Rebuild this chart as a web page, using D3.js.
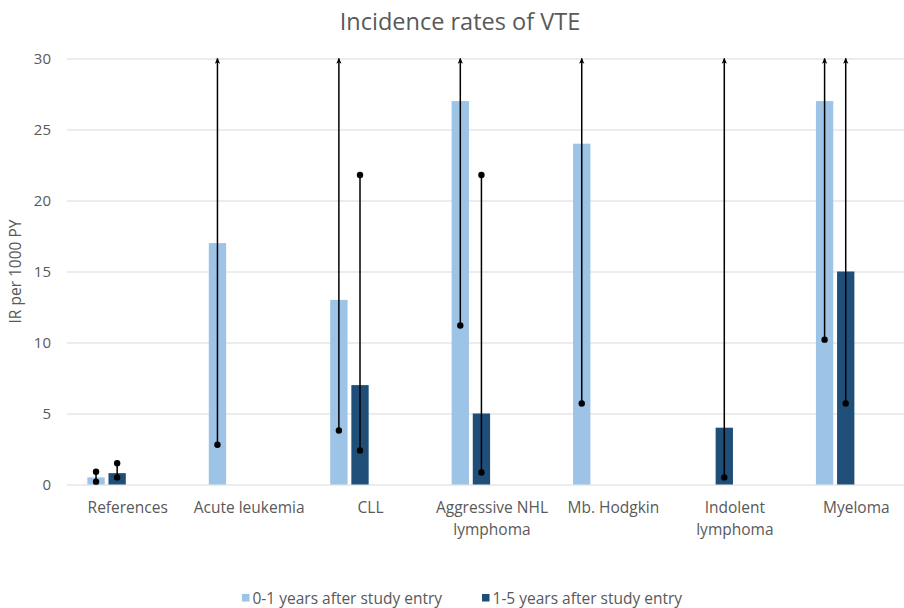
<!DOCTYPE html>
<html>
<head>
<meta charset="utf-8">
<script src="https://cdn.jsdelivr.net/npm/d3@7"></script>
<style>
  html, body { margin: 0; padding: 0; background: #fff; }
  svg { display: block; font-family: "Open Sans", "Noto Sans", sans-serif; }
</style>
</head>
<body>
<script>
// Categories (x axis) and their wrapped tick labels
const categories = ["References", "Acute leukemia", "CLL", "Aggressive NHL lymphoma",
                    "Mb. Hodgkin", "Indolent lymphoma", "Myeloma"];
const tickLines = [["References"], ["Acute leukemia"], ["CLL"], ["Aggressive NHL", "lymphoma"],
                   ["Mb. Hodgkin"], ["Indolent", "lymphoma"], ["Myeloma"]];

// Series names
const seriesNames = ["0-1 years after study entry", "1-5 years after study entry"];
const seriesColors = ["#9DC3E6", "#1F4E79"];

// Incidence rates (IR per 1000 PY); null = no estimate
const early = [0.5, 17, 13, 27, 24, null, 27];
const late  = [0.8, null, 7, 5, null, 4, 15];

// 95% confidence limits; Infinity = upper limit beyond the axis
const earlyLow  = [0.2, 2.8, 3.8, 11.2, 5.7, null, 10.2];
const earlyHigh = [0.9, Infinity, Infinity, Infinity, Infinity, null, Infinity];
const lateLow   = [0.5, null, 2.4, 0.85, null, 0.5, 5.7];
const lateHigh  = [1.5, null, 21.8, 21.8, null, Infinity, Infinity];

const yTicks = [0, 5, 10, 15, 20, 25, 30];

const W = 904, H = 608;
const plot = { left: 67, right: 917, top: 58.5, bottom: 484.5 };
const textColor = "#595959";
const labelSize = "15.5px";

const svg = d3.select("body").append("svg").attr("width", W).attr("height", H);

const x = d3.scaleBand().domain(categories).range([plot.left, plot.right]);
const bw = x.bandwidth();
const xs = d3.scaleBand().domain(seriesNames)
  .range([0.152 * bw, 0.5 * bw]).paddingInner(0.18).paddingOuter(0.09);
const y = d3.scaleLinear().domain([0, 30]).range([plot.bottom, plot.top]);

// Title
svg.append("text")
  .attr("x", 460).attr("y", 30)
  .attr("text-anchor", "middle")
  .attr("fill", textColor)
  .style("font-size", "23.5px")
  .text("Incidence rates of VTE");

// Y axis with gridlines
const yAxis = svg.append("g")
  .attr("transform", `translate(${plot.left},0)`)
  .call(d3.axisLeft(y).tickValues(yTicks).tickSize(-(plot.right - plot.left)).tickPadding(16));
yAxis.select(".domain").remove();
yAxis.selectAll(".tick line").attr("stroke", "#D9D9D9").attr("stroke-width", 1);
yAxis.selectAll(".tick text").attr("fill", textColor)
  .style("font-size", "15px").style("font-family", "'Open Sans', sans-serif");

// Y axis title
svg.append("text")
  .attr("transform", `translate(21,${(plot.top + plot.bottom) / 2}) rotate(-90)`)
  .attr("text-anchor", "middle")
  .attr("fill", textColor)
  .style("font-size", labelSize)
  .text("IR per 1000 PY");

// X axis labels
const xAxis = svg.append("g")
  .attr("transform", `translate(0,${plot.bottom})`)
  .call(d3.axisBottom(x).tickSize(0).tickPadding(0));
xAxis.select(".domain").remove();
xAxis.selectAll(".tick text").each(function (d) {
  const lines = tickLines[categories.indexOf(d)];
  const t = d3.select(this).text(null)
    .attr("y", 28).attr("dy", null)
    .attr("fill", textColor)
    .style("font-size", labelSize).style("font-family", "'Open Sans', sans-serif");
  lines.forEach((l, i) => t.append("tspan").attr("x", 0).attr("dy", i === 0 ? 0 : 22).text(l));
});

// Bars and confidence intervals
const series = [
  { name: seriesNames[0], color: seriesColors[0], values: early, low: earlyLow, high: earlyHigh },
  { name: seriesNames[1], color: seriesColors[1], values: late,  low: lateLow,  high: lateHigh }
];

const defs = svg.append("defs");
defs.append("marker")
  .attr("id", "arrowUp")
  .attr("viewBox", "0 0 8 8")
  .attr("refX", 7).attr("refY", 4)
  .attr("markerWidth", 6).attr("markerHeight", 6)
  .attr("markerUnits", "userSpaceOnUse")
  .attr("orient", "auto")
  .append("path")
  .attr("d", "M0,0.5 L8,4 L0,7.5 L2,4 Z")
  .attr("fill", "#000");

series.forEach(s => {
  const rows = categories.map((c, i) => ({ c, v: s.values[i], lo: s.low[i], hi: s.high[i] }))
    .filter(r => r.v != null);

  svg.append("g").selectAll("rect").data(rows).join("rect")
    .attr("x", r => x(r.c) + xs(s.name))
    .attr("width", xs.bandwidth())
    .attr("y", r => y(r.v))
    .attr("height", r => y(0) - y(r.v))
    .attr("fill", s.color);
});

series.forEach(s => {
  const rows = categories.map((c, i) => ({ c, v: s.values[i], lo: s.low[i], hi: s.high[i] }))
    .filter(r => r.v != null && r.lo != null);
  const cx = r => x(r.c) + xs(s.name) + xs.bandwidth() / 2;
  const g = svg.append("g");
  const top = r => y(Math.min(r.hi, 30));

  g.selectAll("line").data(rows).join("line")
    .attr("x1", cx).attr("x2", cx)
    .attr("y1", r => y(r.lo))
    .attr("y2", top)
    .attr("stroke", "#000").attr("stroke-width", 1.5)
    .attr("marker-end", r => r.hi > 30 ? "url(#arrowUp)" : null);

  g.selectAll("circle.lo").data(rows).join("circle")
    .attr("class", "lo")
    .attr("cx", cx).attr("cy", r => y(r.lo)).attr("r", 3.2).attr("fill", "#000");

  g.selectAll("circle.hi").data(rows.filter(r => r.hi <= 30)).join("circle")
    .attr("class", "hi")
    .attr("cx", cx).attr("cy", r => y(r.hi)).attr("r", 3.2).attr("fill", "#000");
});

// Legend
const legend = svg.append("g").attr("transform", "translate(242,0)");
let lx = 0;
series.forEach(s => {
  legend.append("rect").attr("x", lx).attr("y", 594).attr("width", 7.5).attr("height", 7.5).attr("fill", s.color);
  const t = legend.append("text").attr("x", lx + 10.5).attr("y", 603.5)
    .attr("fill", textColor).style("font-size", labelSize).text(s.name);
  lx += 10.5 + t.node().getComputedTextLength() + 40;
});
</script>
</body>
</html>
